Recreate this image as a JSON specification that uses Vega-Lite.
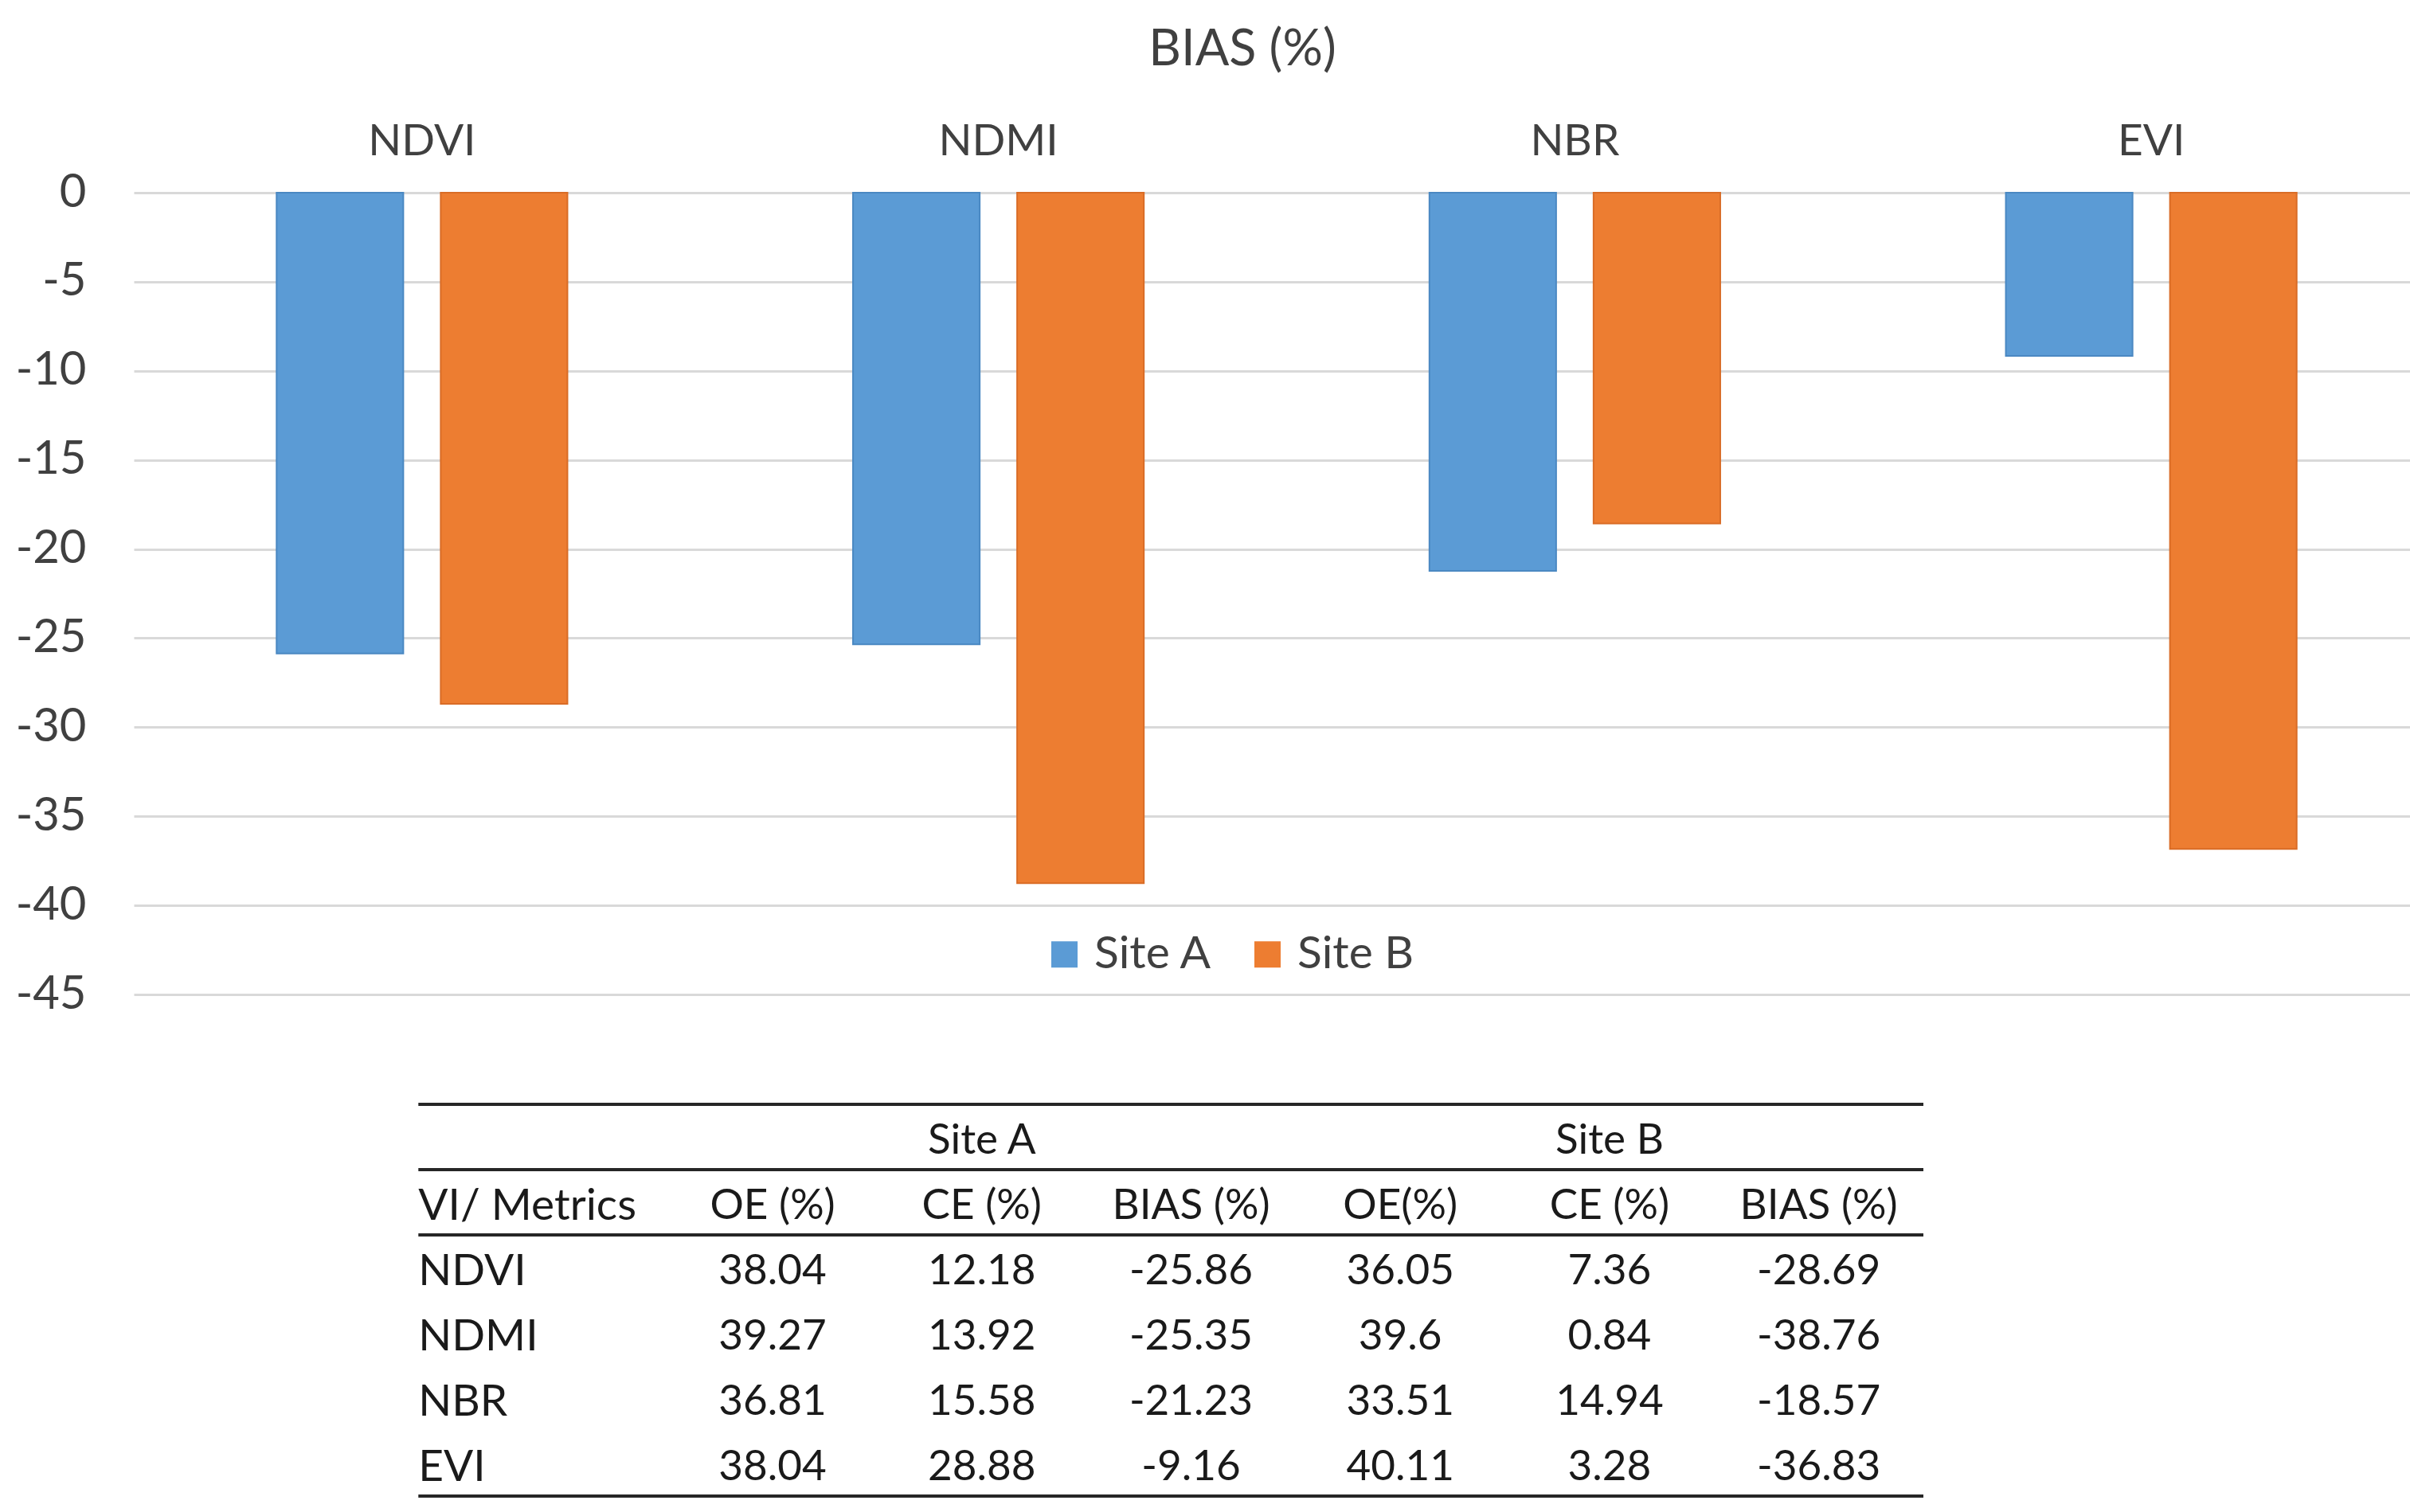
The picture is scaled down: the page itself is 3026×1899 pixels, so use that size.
{
  "$schema": "https://vega.github.io/schema/vega-lite/v6.json",
  "background": "white",
  "padding": {"left": 19, "top": 32, "right": 0, "bottom": 5},
  "bounds": "flush",
  "spacing": 138,
  "config": {
    "font": "Lato",
    "view": {"stroke": null},
    "axis": {"labelFont": "Lato", "labelColor": "#404040"},
    "legend": {"labelFont": "Lato", "labelColor": "#404040"}
  },
  "datasets": {
    "bias": [
      {"vi": "NDVI", "site": "Site A", "bias": -25.86},
      {"vi": "NDVI", "site": "Site B", "bias": -28.69},
      {"vi": "NDMI", "site": "Site A", "bias": -25.35},
      {"vi": "NDMI", "site": "Site B", "bias": -38.76},
      {"vi": "NBR", "site": "Site A", "bias": -21.23},
      {"vi": "NBR", "site": "Site B", "bias": -18.57},
      {"vi": "EVI", "site": "Site A", "bias": -9.16},
      {"vi": "EVI", "site": "Site B", "bias": -36.83}
    ],
    "cells": [
      {"row": "site", "col": "CE_A", "text": "Site A"},
      {"row": "site", "col": "CE_B", "text": "Site B"},
      {"row": "metric", "col": "VI", "text": "VI/ Metrics"},
      {"row": "metric", "col": "OE_A", "text": "OE (%)"},
      {"row": "metric", "col": "CE_A", "text": "CE (%)"},
      {"row": "metric", "col": "BIAS_A", "text": "BIAS (%)"},
      {"row": "metric", "col": "OE_B", "text": "OE(%)"},
      {"row": "metric", "col": "CE_B", "text": "CE (%)"},
      {"row": "metric", "col": "BIAS_B", "text": "BIAS (%)"},
      {"row": "NDVI", "col": "VI", "text": "NDVI"},
      {"row": "NDVI", "col": "OE_A", "text": "38.04"},
      {"row": "NDVI", "col": "CE_A", "text": "12.18"},
      {"row": "NDVI", "col": "BIAS_A", "text": "-25.86"},
      {"row": "NDVI", "col": "OE_B", "text": "36.05"},
      {"row": "NDVI", "col": "CE_B", "text": "7.36"},
      {"row": "NDVI", "col": "BIAS_B", "text": "-28.69"},
      {"row": "NDMI", "col": "VI", "text": "NDMI"},
      {"row": "NDMI", "col": "OE_A", "text": "39.27"},
      {"row": "NDMI", "col": "CE_A", "text": "13.92"},
      {"row": "NDMI", "col": "BIAS_A", "text": "-25.35"},
      {"row": "NDMI", "col": "OE_B", "text": "39.6"},
      {"row": "NDMI", "col": "CE_B", "text": "0.84"},
      {"row": "NDMI", "col": "BIAS_B", "text": "-38.76"},
      {"row": "NBR", "col": "VI", "text": "NBR"},
      {"row": "NBR", "col": "OE_A", "text": "36.81"},
      {"row": "NBR", "col": "CE_A", "text": "15.58"},
      {"row": "NBR", "col": "BIAS_A", "text": "-21.23"},
      {"row": "NBR", "col": "OE_B", "text": "33.51"},
      {"row": "NBR", "col": "CE_B", "text": "14.94"},
      {"row": "NBR", "col": "BIAS_B", "text": "-18.57"},
      {"row": "EVI", "col": "VI", "text": "EVI"},
      {"row": "EVI", "col": "OE_A", "text": "38.04"},
      {"row": "EVI", "col": "CE_A", "text": "28.88"},
      {"row": "EVI", "col": "BIAS_A", "text": "-9.16"},
      {"row": "EVI", "col": "OE_B", "text": "40.11"},
      {"row": "EVI", "col": "CE_B", "text": "3.28"},
      {"row": "EVI", "col": "BIAS_B", "text": "-36.83"}
    ],
    "lines": [
      {"row": "site", "edge": "top", "from": "VI", "to": "BIAS_B"},
      {"row": "metric", "edge": "top", "from": "VI", "to": "BIAS_B"},
      {"row": "NDVI", "edge": "top", "from": "VI", "to": "BIAS_B"},
      {"row": "EVI", "edge": "bottom", "from": "VI", "to": "BIAS_B"}
    ]
  },
  "vconcat": [
    {
      "width": 2836,
      "height": 1007,
      "title": {
        "text": "BIAS (%)",
        "fontSize": 63,
        "fontWeight": "normal",
        "color": "#404040",
        "font": "Lato",
        "anchor": "middle",
        "frame": "group",
        "dx": -30,
        "offset": 55
      },
      "data": {"name": "bias"},
      "mark": {"type": "bar", "strokeWidth": 2},
      "encoding": {
        "x": {
          "field": "vi",
          "type": "nominal",
          "sort": ["NDVI", "NDMI", "NBR", "EVI"],
          "scale": {"range": [-4, 2891], "paddingInner": 0, "paddingOuter": 0},
          "axis": {
            "orient": "top",
            "title": null,
            "labelAngle": 0,
            "labelFontSize": 55,
            "labelPadding": 36,
            "ticks": false,
            "domain": false,
            "grid": false
          }
        },
        "xOffset": {
          "field": "site",
          "type": "nominal",
          "scale": {"paddingInner": 0.228, "paddingOuter": 0.87}
        },
        "y": {
          "field": "bias",
          "type": "quantitative",
          "scale": {"domain": [-45, 0], "nice": false},
          "axis": {
            "title": null,
            "values": [0, -5, -10, -15, -20, -25, -30, -35, -40, -45],
            "labelExpr": "replace(datum.label, '\u2212', '-')",
            "labelFontSize": 58,
            "labelPadding": 64,
            "ticks": false,
            "domain": false,
            "grid": true,
            "gridColor": "#D9D9D9",
            "gridWidth": 3
          }
        },
        "color": {
          "field": "site",
          "type": "nominal",
          "scale": {"domain": ["Site A", "Site B"], "range": ["#5B9BD5", "#ED7D31"]},
          "legend": {
            "title": null,
            "orient": "none",
            "direction": "horizontal",
            "legendX": 1136,
            "legendY": 928,
            "padding": 0,
            "symbolType": "square",
            "symbolSize": 1089,
            "symbolStrokeWidth": 0,
            "symbolOpacity": 1,
            "labelFontSize": 57,
            "labelOffset": 9,
            "columnPadding": 41
          }
        },
        "stroke": {
          "field": "site",
          "type": "nominal",
          "scale": {"domain": ["Site A", "Site B"], "range": ["#4A88C2", "#D96C26"]},
          "legend": null
        }
      }
    },
    {
      "width": 2836,
      "height": 492,
      "layer": [
        {
          "data": {"name": "cells"},
          "transform": [{"filter": "datum.col !== 'VI'"}],
          "mark": {"type": "text", "fontSize": 53, "color": "#1a1a1a", "font": "Lato", "dy": 5},
          "encoding": {
            "x": {
              "field": "col",
              "type": "nominal",
              "scale": {
                "domain": ["VI", "OE_A", "CE_A", "BIAS_A", "OE_B", "CE_B", "BIAS_B"],
                "range": [404, 2243],
                "paddingInner": 0,
                "paddingOuter": 0
              },
              "axis": null
            },
            "y": {
              "field": "row",
              "type": "nominal",
              "scale": {
                "domain": ["site", "metric", "NDVI", "NDMI", "NBR", "EVI"],
                "paddingInner": 0,
                "paddingOuter": 0
              },
              "axis": null
            },
            "text": {"field": "text", "type": "nominal"}
          }
        },
        {
          "data": {"name": "cells"},
          "transform": [{"filter": "datum.col === 'VI'"}],
          "mark": {"type": "text", "fontSize": 55, "color": "#1a1a1a", "font": "Lato", "align": "left", "dy": 5},
          "encoding": {
            "x": {"field": "col", "type": "nominal", "bandPosition": -0.193, "axis": null},
            "y": {"field": "row", "type": "nominal", "axis": null},
            "text": {"field": "text", "type": "nominal"}
          }
        },
        {
          "data": {"name": "lines"},
          "transform": [{"filter": "datum.edge === 'top'"}],
          "mark": {"type": "rule", "strokeWidth": 4, "color": "#262626"},
          "encoding": {
            "x": {"field": "from", "type": "nominal", "bandPosition": -0.193, "axis": null},
            "x2": {"field": "to", "bandPosition": 1},
            "y": {"field": "row", "type": "nominal", "bandPosition": 0, "axis": null}
          }
        },
        {
          "data": {"name": "lines"},
          "transform": [{"filter": "datum.edge === 'bottom'"}],
          "mark": {"type": "rule", "strokeWidth": 4, "color": "#262626"},
          "encoding": {
            "x": {"field": "from", "type": "nominal", "bandPosition": -0.193, "axis": null},
            "x2": {"field": "to", "bandPosition": 1},
            "y": {"field": "row", "type": "nominal", "bandPosition": 1, "axis": null}
          }
        }
      ]
    }
  ]
}
